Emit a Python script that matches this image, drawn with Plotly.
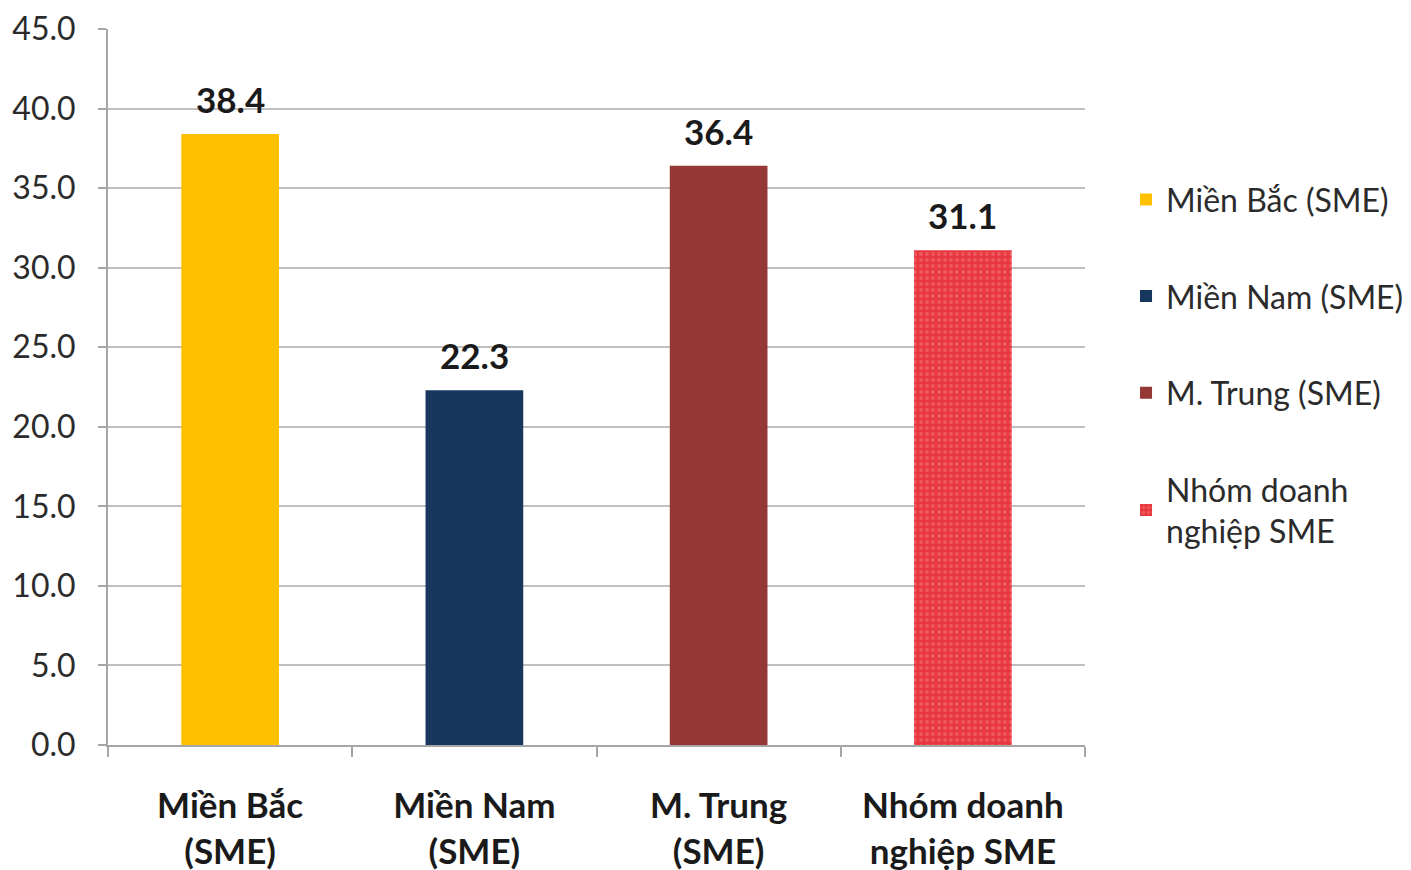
import plotly.graph_objects as go

categories = ["Miền Bắc<br>(SME)", "Miền Nam<br>(SME)", "M. Trung<br>(SME)", "Nhóm doanh<br>nghiệp SME"]
legend_names = ["Miền Bắc (SME)", "Miền Nam (SME)", "M. Trung (SME)", "Nhóm doanh<br>nghiệp SME"]
values = [38.4, 22.3, 36.4, 31.1]
colors = ["#FFC000", "#17375E", "#953735", "#E8373E"]
y_ticks = [0, 5, 10, 15, 20, 25, 30, 35, 40, 45]

FONT = "Lato"
fig = go.Figure()
for i, (cat, name, val, col) in enumerate(zip(categories, legend_names, values, colors)):
    marker = dict(color=col, line=dict(width=0))
    if i == 3:
        marker["pattern"] = dict(shape=".", bgcolor=col, fgcolor="#F47A7E", size=6, solidity=0.35)
    fig.add_trace(go.Bar(
        x=[cat], y=[val], name=name, marker=marker, width=0.4,
        legendgroup=f"g{i}",
    ))
    fig.add_annotation(
        x=cat, y=val, text=f"<b>{val:.1f}</b>", showarrow=False,
        yanchor="bottom", yshift=12,
        font=dict(family=FONT, size=35, color="#1a1a1a"),
    )

fig.update_layout(
    width=1403, height=862,
    margin=dict(l=100, r=326, t=21, b=125, autoexpand=False),
    paper_bgcolor="white", plot_bgcolor="white",
    barmode="overlay",
    font=dict(family=FONT, color="#2b2b2b"),
    showlegend=True,
    legend=dict(x=1.042, y=0.80, xanchor="left", yanchor="top",
                font=dict(family=FONT, size=32, color="#2b2b2b"),
                tracegroupgap=52, bgcolor="rgba(0,0,0,0)"),
)
fig.update_xaxes(
    automargin=False,
    showline=True, linecolor="#A6A6A6", linewidth=2,
    ticks="outside", tickson="boundaries", ticklen=10, tickcolor="#A6A6A6", tickwidth=2,
    tickfont=dict(family=FONT, size=35, color="#1a1a1a", weight="bold"),
    ticklabelstandoff=29,
    showgrid=False,
)
fig.update_yaxes(
    automargin=False,
    range=[0, 45], tickvals=y_ticks, tickformat=".1f",
    showgrid=True, gridcolor="#BFBFBF", gridwidth=2,
    showline=True, linecolor="#A6A6A6", linewidth=2,
    ticks="outside", ticklen=8, tickcolor="#A6A6A6", tickwidth=2,
    tickfont=dict(family=FONT, size=32, color="#2b2b2b"),
    ticklabelstandoff=16,
    zeroline=False,
)
fig.write_html("out.html")
